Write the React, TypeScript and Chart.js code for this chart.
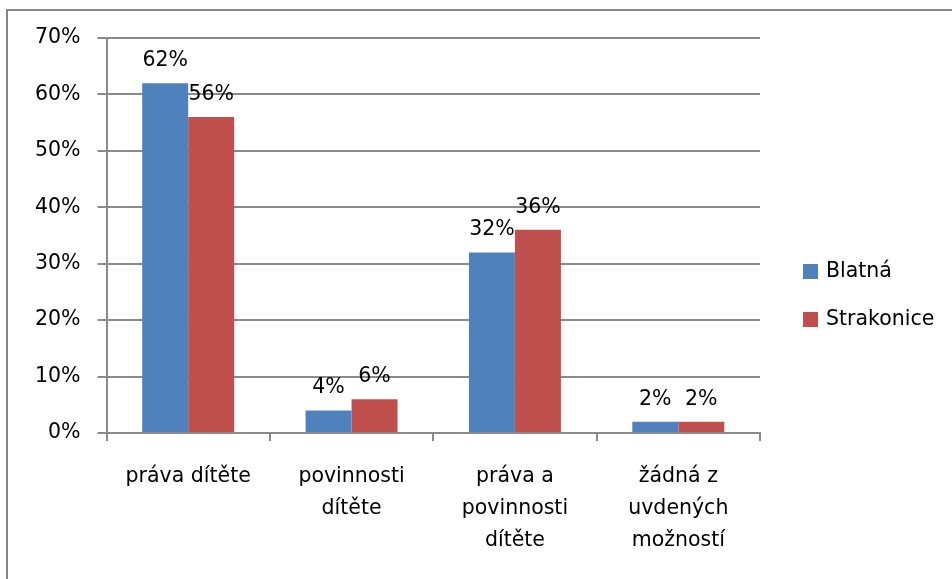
import React, { useEffect, useRef } from "react";
import { Chart, registerables } from "chart.js";

Chart.register(...registerables);

const categories: string[][] = [
  ["práva dítěte"],
  ["povinnosti", "dítěte"],
  ["práva a", "povinnosti", "dítěte"],
  ["žádná z", "uvdených", "možností"],
];
const seriesNames = ["Blatná", "Strakonice"];
const blatna = [62, 4, 32, 2];
const strakonice = [56, 6, 36, 2];
const yTicks = { min: 0, max: 70, step: 10 };

const FONT = "'DejaVu Sans', sans-serif";
const FONT_SIZE = 20.5;
const GRID = "#8a8a8a";
const COLORS = ["#4F81BD", "#C0504D"];

const frame = {
  id: "frame",
  beforeDraw(chart: any) {
    const ctx = chart.ctx;
    ctx.save();
    ctx.fillStyle = "#ffffff";
    ctx.fillRect(0, 0, chart.width, chart.height);
    ctx.fillStyle = "#868686";
    ctx.fillRect(6, 9, chart.width - 6, 2);
    ctx.fillRect(6, 9, 2, chart.height - 9);
    ctx.restore();
  },
};

const dataLabels = {
  id: "dataLabels",
  afterDatasetsDraw(chart: any) {
    const ctx = chart.ctx;
    ctx.save();
    ctx.font = `${FONT_SIZE}px ${FONT}`;
    ctx.fillStyle = "#000";
    ctx.textAlign = "center";
    ctx.textBaseline = "alphabetic";
    chart.data.datasets.forEach((ds: any, i: number) => {
      const meta = chart.getDatasetMeta(i);
      meta.data.forEach((bar: any, j: number) => {
        ctx.fillText(ds.data[j] + "%", bar.x, bar.y - 17);
      });
    });
    ctx.restore();
  },
};

const sideLegend = {
  id: "sideLegend",
  afterDraw(chart: any) {
    const ctx = chart.ctx;
    const area = chart.chartArea;
    ctx.save();
    ctx.font = `${FONT_SIZE}px ${FONT}`;
    ctx.textBaseline = "middle";
    ctx.textAlign = "left";
    chart.data.datasets.forEach((ds: any, i: number) => {
      const bx = area.right + 43;
      const by = 264 + i * 48;
      ctx.fillStyle = ds.backgroundColor;
      ctx.fillRect(bx, by, 15, 15);
      ctx.fillStyle = "#000";
      ctx.fillText(ds.label, bx + 23, by + 8);
    });
    ctx.restore();
  },
};

export default function App() {
  const ref = useRef<HTMLCanvasElement>(null);
  useEffect(() => {
    if (!ref.current) return;
    const chart = new Chart(ref.current, {
      type: "bar",
      data: {
        labels: categories,
        datasets: [
          { label: seriesNames[0], data: blatna, backgroundColor: COLORS[0], barPercentage: 1, categoryPercentage: 0.563 },
          { label: seriesNames[1], data: strakonice, backgroundColor: COLORS[1], barPercentage: 1, categoryPercentage: 0.563 },
        ],
      },
      options: {
        responsive: false,
        animation: false,
        layout: { padding: { top: 38, right: 192, bottom: 0, left: 0 } },
        plugins: { legend: { display: false }, tooltip: { enabled: false } },
        scales: {
          x: {
            offset: true,
            grid: { display: true, drawOnChartArea: false, drawTicks: true, tickLength: 8, color: GRID, lineWidth: 2, offset: true },
            border: { display: true, color: GRID, width: 2 },
            ticks: {
              color: "#000",
              font: { family: FONT, size: FONT_SIZE, lineHeight: "32px" },
              padding: 20,
              maxRotation: 0,
              autoSkip: false,
            },
            afterFit: (s: any) => { s.height = 146; },
          },
          y: {
            min: yTicks.min,
            max: yTicks.max,
            ticks: {
              stepSize: yTicks.step,
              color: "#000",
              font: { family: FONT, size: FONT_SIZE },
              padding: 17,
              callback: (v: any) => v + "%",
            },
            grid: { color: GRID, lineWidth: 2, tickLength: 9, drawTicks: true },
            border: { display: true, color: GRID, width: 2 },
            afterFit: (s: any) => { s.width = 106.5; },
          },
        },
      },
      plugins: [frame, dataLabels, sideLegend],
    });
    return () => chart.destroy();
  }, []);
  return (
    <div style={{ position: "absolute", left: 0, top: 0, width: 952, height: 579 }}>
      <canvas ref={ref} width={952} height={579} />
    </div>
  );
}
